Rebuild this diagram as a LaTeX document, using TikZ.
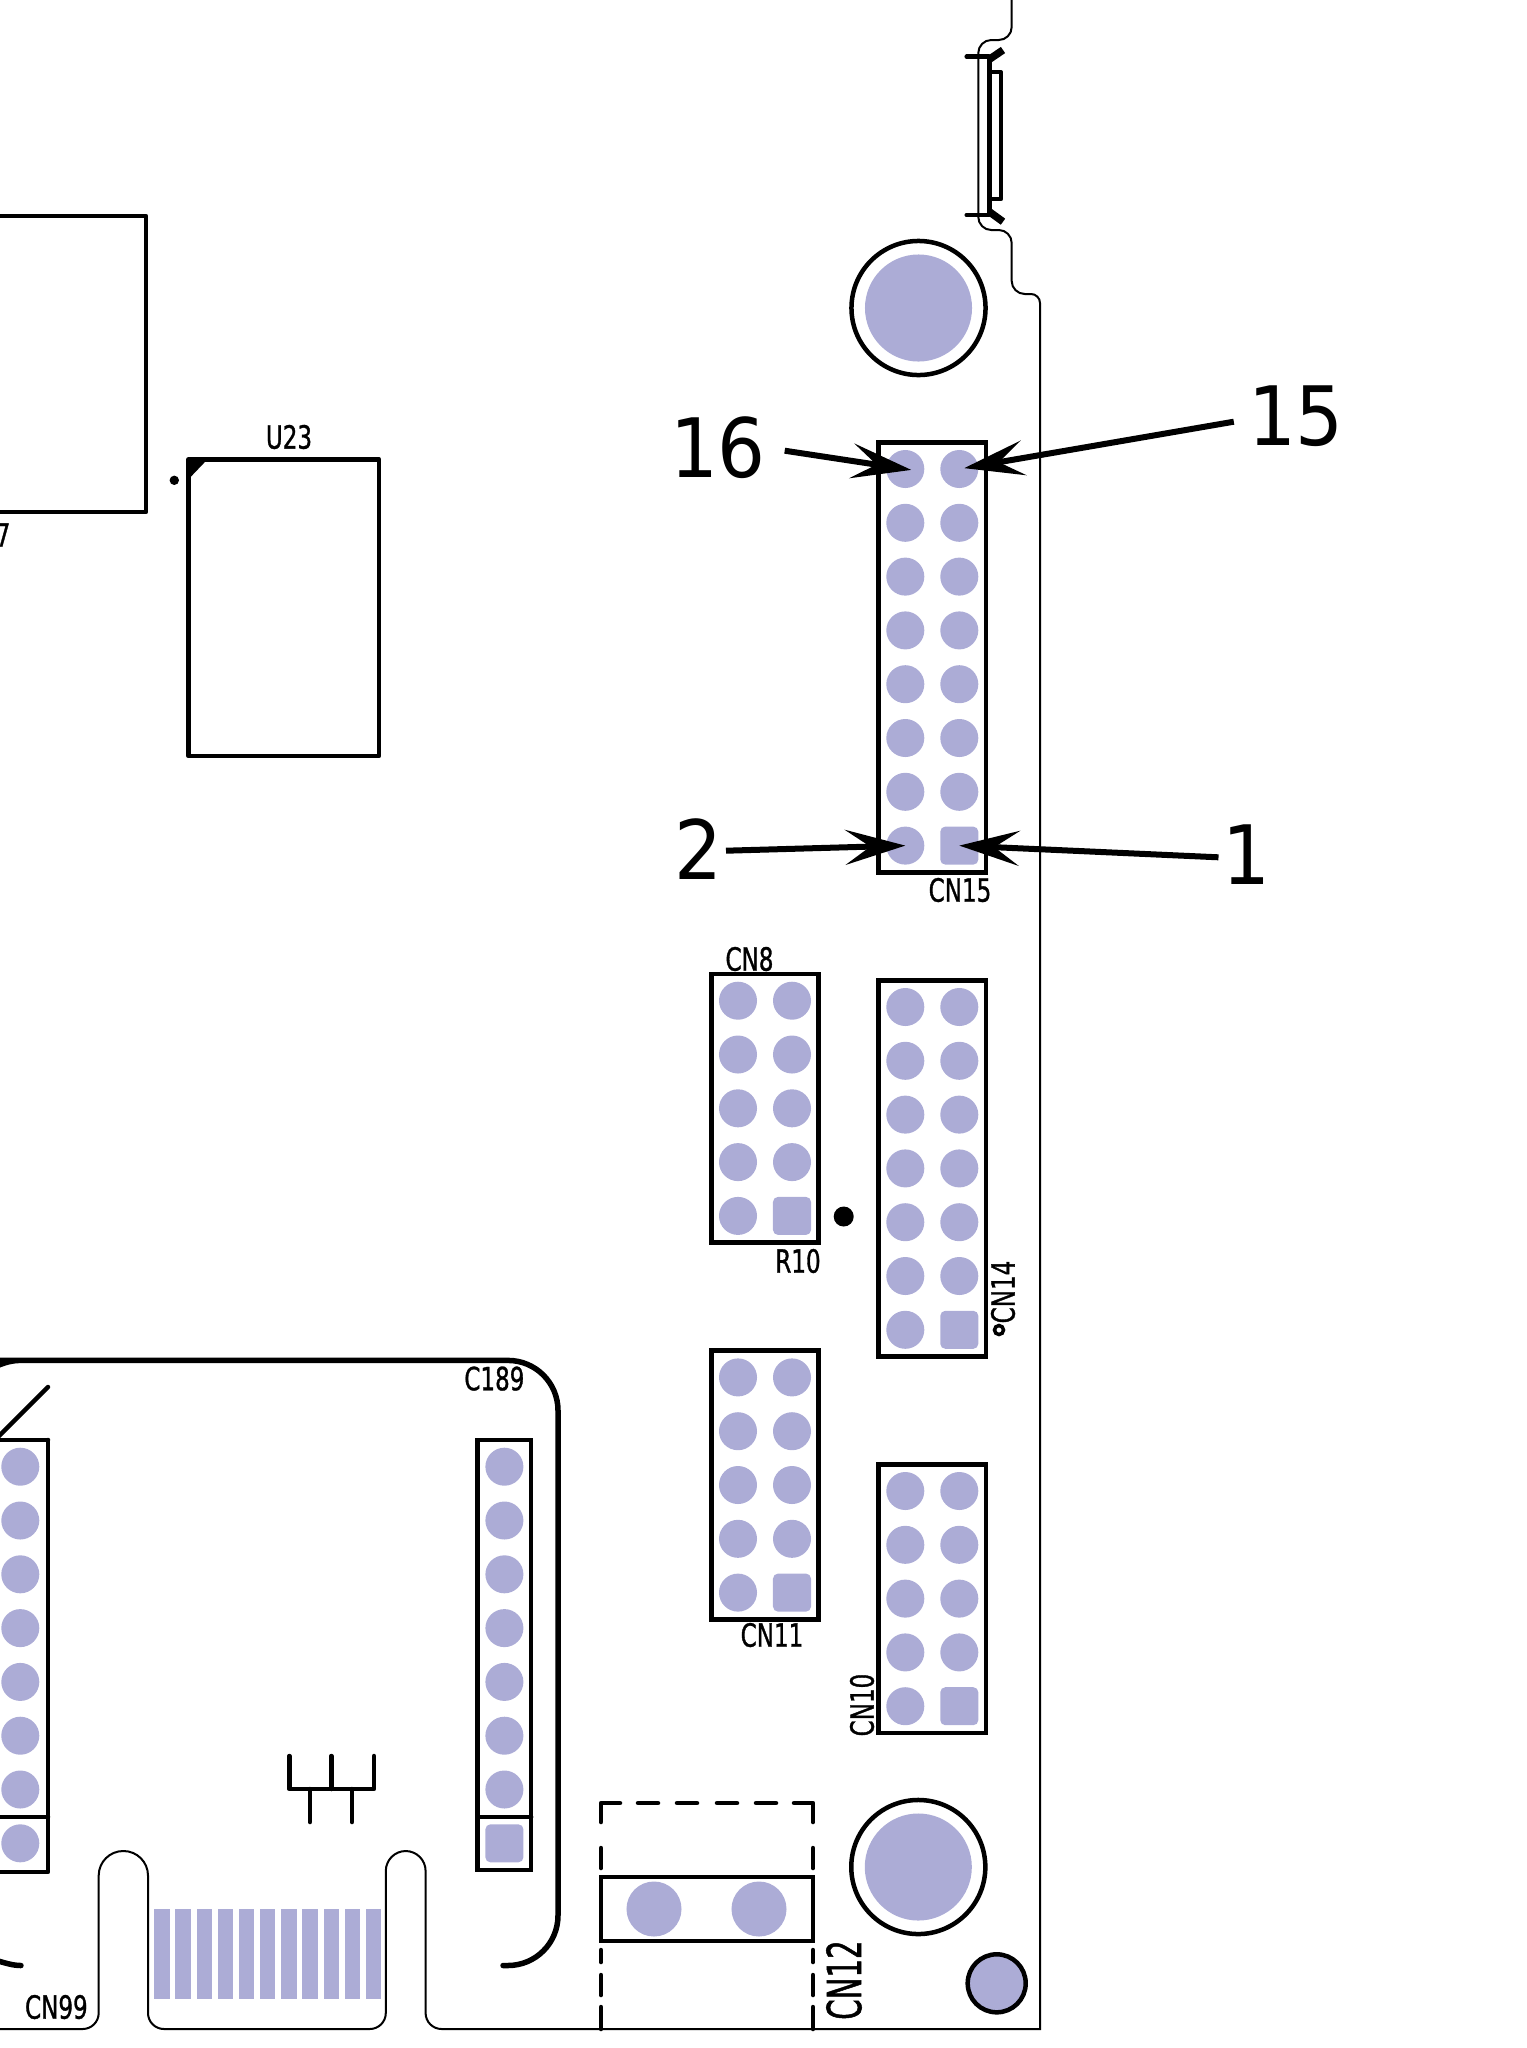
\documentclass[tikz,border=0pt]{standalone}
\usepackage{fontspec}
\usepackage{tikz}
\usetikzlibrary{fit}
\usetikzlibrary{positioning}
\usetikzlibrary{arrows.meta}
\definecolor{padblue}{HTML}{ACACD6}
\newfontfamily\silkfont[FakeStretch=0.72,FakeBold=1]{DejaVu Sans}
\newfontfamily\silkwide[FakeStretch=0.62,FakeBold=1]{DejaVu Sans}
\newfontfamily\bigfont[FakeStretch=0.92]{DejaVu Sans}

% two columns of pads with a box round them, last right pad is square
\newcommand{\padgrid}[5]{%
  \foreach \row in {1,...,#5} {
    \pgfmathsetmacro{\yy}{#4+(\row-1)*53.8}
    \node[pad] (#1l\row) at (#2,\yy) {};
    \ifnum\row=#5
      \node[padsq] (#1r\row) at (#3,\yy) {};
    \else
      \node[pad] (#1r\row) at (#3,\yy) {};
    \fi
  }
  \node[hdr, fit=(#1l1) (#1r#5)] (#1) {};
}

\begin{document}
\begin{tikzpicture}[
        x = 0.01cm,
        y = -0.01cm,
        > = {Stealth[length=0.6cm, width=0.35cm, inset=0.25cm]}, % arrow head style
        silk/.style = {line width=0.045cm, line cap=round, line join=round},
        board/.style = {line width=0.02cm},
        pad/.style = {circle, fill=padblue, minimum size=0.38cm, inner sep=0pt},
        padsq/.style = {rectangle, rounded corners=0.05cm, fill=padblue, minimum size=0.38cm, inner sep=0pt},
        hdr/.style = {draw, line width=0.045cm, inner sep=0.07cm, outer sep=0pt},
        hole/.style = {circle, fill=padblue, minimum size=1.07cm, inner sep=0pt},
        ring/.style = {circle, draw, line width=0.045cm, minimum size=1.34cm, inner sep=0pt},
        finger/.style = {fill=padblue, minimum width=0.153cm, minimum height=0.89cm, inner sep=0pt},
        silktext/.style = {inner sep=0pt, font=\silkfont\fontsize{9.1}{10}\selectfont},
        numtext/.style = {inner sep=0pt, font=\bigfont\fontsize{23.3}{26}\selectfont},
        callout/.style = {->, line width=0.06cm}
    ]

    \useasboundingbox (0,0) rectangle (1527,2048);
    \clip (0,0) rectangle (1527,2048);

    % board outline
    \draw[board] (1011.7,-5) [rounded corners=0.13cm] -- (1011.7,40) -- (978.3,40) -- (978.3,230)
        -- (1011.7,230) -- (1011.7,294) [rounded corners=0.09cm] -- (1040,294)
        [sharp corners] -- (1040,2029) -- (442,2029)
        [rounded corners=0.16cm] -- (425.6,2029) [rounded corners=0.2cm] -- (425.6,1851) -- (385.8,1851)
        [rounded corners=0.16cm] -- (385.8,2029) -- (148,2029) [rounded corners=0.245cm] -- (148,1851) -- (98.7,1851)
        [rounded corners=0.16cm] -- (98.7,2029) [sharp corners] -- (-5,2029);

    % card edge slot
    \draw[silk, line width=0.055cm] (-5,1960) .. controls (5,1963) and (13,1965.5) .. (21,1965.5);
    \draw[silk, line width=0.055cm] (503,1965.5) [rounded corners=0.5cm] -- (558,1965.5) -- (558,1360.4) -- (30,1360.4)
        [sharp corners] -- (22,1360.4) .. controls (12,1360.4) and (5,1362) .. (-8,1368);
    \draw[silk] (48,1387) -- (-5,1440);
    \draw[silk] (48,1440) -- (-10,1440);
    \draw[silk] (48,1440) -- (48,1872) -- (-10,1872);
    \draw[silk] (48,1817) -- (-10,1817);
    \foreach \row in {1,...,8} {
        \pgfmathsetmacro{\yy}{1466.7+(\row-1)*53.8}
        \node[pad] (ml\row) at (20.3,\yy) {};
    }
    \foreach \row in {1,...,7} {
        \pgfmathsetmacro{\yy}{1466.7+(\row-1)*53.8}
        \node[pad] (mr\row) at (504.4,\yy) {};
    }
    \node[padsq] (mr8) at (504.4,1843.3) {};
    \node[hdr, fit=(mr1) (mr8)] (mrbox) {};
    \draw[silk] (mrbox.west |- 0,1817) -- (mrbox.east |- 0,1817);
    \foreach \fx in {161.9,183.06,...,374} {
        \node[finger] at (\fx,1954) {};
    }
    \draw[silk] (289.3,1756) -- (289.3,1789) -- (374,1789) -- (374,1756);
    \draw[silk] (331.4,1756) -- (331.4,1789);
    \draw[silk] (310,1789) -- (310,1822);
    \draw[silk] (352,1789) -- (352,1822);
    \node[silktext] (c189) at (494.4,1378.6) {C189};
    \node[silktext] (cn99) at (56.4,2007) {CN99};

    % chips
    \draw[silk] (-10,216) -- (146,216) -- (146,512) -- (-10,512);
    \node[silktext] (u7) at (3,535) {7};
    \draw[silk] (188.7,459.3) rectangle (379,756);
    \fill (188.7,459.3) -- (207.5,459.3) -- (188.7,479) -- cycle;
    \fill (174.3,480.3) circle (4.7);
    \node[silktext] (u23) at (289,437) {U23};

    % headers
    \padgrid{cn15}{905.3}{959.3}{469}{8}
    \padgrid{cn8}{738}{792}{1000.7}{5}
    \padgrid{cn14}{905.3}{959.3}{1007}{7}
    \padgrid{cn11}{738}{792}{1377.4}{5}
    \padgrid{cn10}{905.3}{959.3}{1491}{5}
    \node[silktext] (t15) at (960,890) {CN15};
    \node[silktext] (t8) at (749.5,959) {CN8};
    \node[silktext] (r10) at (798,1261) {R10};
    \node[silktext, rotate=90] (t14) at (1003,1292) {CN14};
    \node[silktext] (t11) at (772,1635) {CN11};
    \node[silktext, rotate=90] (t10) at (862,1705) {CN10};
    \fill (843.7,1216.5) circle (10);
    \draw[line width=0.035cm] (999,1330) circle (4.5);

    % holes
    \node[ring] (h1) at (918.5,308) {};
    \node[hole] at (h1) {};
    \node[ring] (h2) at (918.3,1867) {};
    \node[hole] at (h2) {};
    \node[circle, draw, fill=padblue, line width=0.045cm, minimum size=0.58cm, inner sep=0pt] (h3) at (996.7,1983.3) {};

    % jumper
    \node[pad, minimum size=0.55cm] (j1) at (654,1909) {};
    \node[pad, minimum size=0.55cm] (j2) at (759,1909) {};
    \node[hdr, minimum width=2.12cm, minimum height=0.64cm] (cn12) at (707,1909) {};
    \draw[silk] (601,1822) -- (601,1803) -- (620,1803);
    \foreach \dx in {638,677,717,756} {
        \draw[silk] (\dx,1803) -- ++(20,0);
    }
    \draw[silk] (794,1803) -- (813,1803) -- (813,1822);
    \foreach \sx in {601,813} {
        \draw[silk] (\sx,1848) -- (\sx,1868);
        \draw[silk] (\sx,1950) -- (\sx,1962);
        \draw[silk] (\sx,1975) -- (\sx,1995);
        \draw[silk] (\sx,2007) -- (\sx,2029);
    }
    \node[inner sep=0pt, rotate=90, font=\silkwide\fontsize{13.4}{15}\selectfont] (t12) at (844,1980) {CN12};

    % connector on the edge
    \draw[silk] (966.7,56.7) -- (989,56.7);
    \draw[silk] (966.7,215) -- (989,215);
    \draw[line width=0.05cm, line join=round] (989,56.7) -- (989,215);
    \draw[line width=0.04cm, line join=round] (989,72.3) -- (1001,72.3) -- (1001,199.3) -- (989,199.3);
    \draw[line width=0.075cm] (988.3,60) -- (1003,50);
    \draw[line width=0.075cm] (988.3,211) -- (1003,221.7);

    % pin numbers
    \node[numtext] (n16) at (718,448) {16};
    \node[numtext] (n15) at (1296,416) {15};
    \node[numtext] (n2) at (698.5,849) {2};
    \node[numtext] (n1) at (1246.5,855) {1};
    \coordinate (a16) at (784.7,450.7);
    \coordinate (a15) at (1233.8,421.7);
    \coordinate (a2) at (726,850.7);
    \coordinate (a1) at (1218.5,857.3);
    \draw[callout, shorten >=-0.06cm] (a16) -- (cn15l1.center);
    \draw[callout, shorten >=0.05cm] (a15) -- (cn15r1.center);
    \draw[callout] (a2) -- (cn15l8.center);
    \draw[callout] (a1) -- (cn15r8.center);

\end{tikzpicture}
\end{document}
